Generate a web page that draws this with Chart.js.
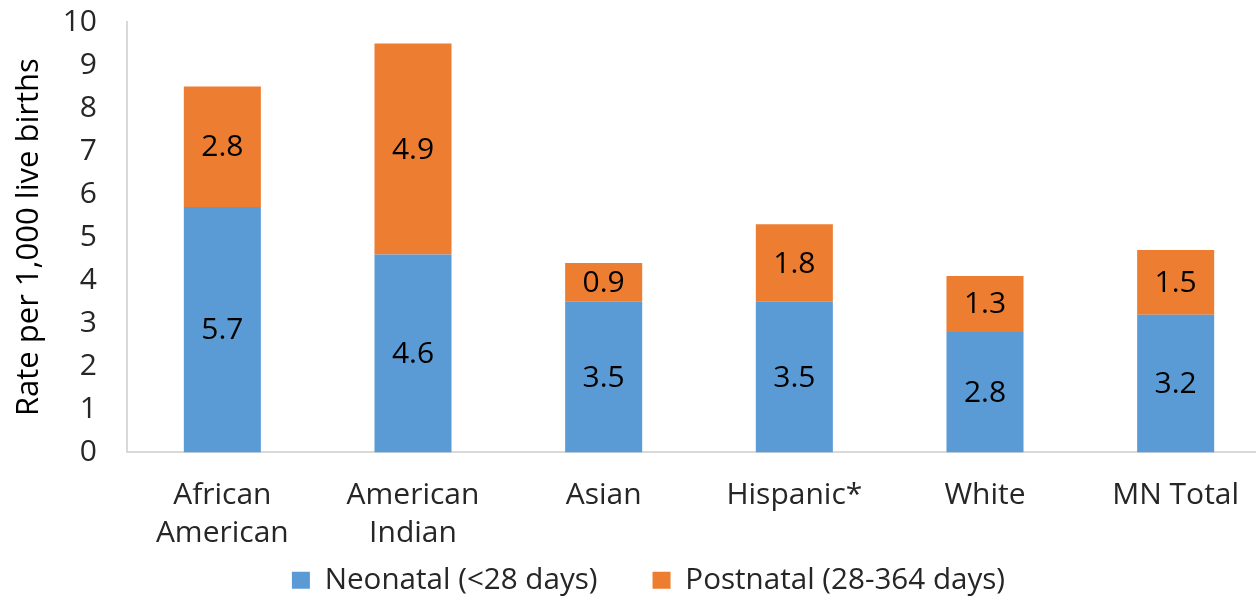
<!DOCTYPE html>
<html>
<head>
<meta charset="utf-8">
<script src="https://cdn.jsdelivr.net/npm/chart.js@4"></script>
<style>
  html, body { margin: 0; padding: 0; background: #fff; overflow: hidden; }
  #wrap { width: 1256px; height: 599px; overflow: hidden; position: relative; }
  #box { width: 1296px; height: 599px; position: absolute; left: 0; top: 0; }
</style>
</head>
<body>
<div id="wrap"><div id="box"><canvas id="c"></canvas></div></div>
<script>
const categories = [["African", "American"], ["American", "Indian"], "Asian", "Hispanic*", "White", "MN Total"];
const neonatal = [5.7, 4.6, 3.5, 3.5, 2.8, 3.2];
const postnatal = [2.8, 4.9, 0.9, 1.8, 1.3, 1.5];
const yTicks = [0, 1, 2, 3, 4, 5, 6, 7, 8, 9, 10];
const seriesNames = ["Neonatal (<28 days)", "Postnatal (28-364 days)"];

const FONT = "'Open Sans', sans-serif";

const valueLabels = {
  id: 'valueLabels',
  afterDatasetsDraw(chart) {
    const ctx = chart.ctx;
    ctx.save();
    ctx.font = "30px " + FONT;
    ctx.fillStyle = '#000000';
    ctx.textAlign = 'center';
    ctx.textBaseline = 'middle';
    chart.data.datasets.forEach((ds, di) => {
      const meta = chart.getDatasetMeta(di);
      meta.data.forEach((el, i) => {
        const v = ds.data[i];
        ctx.fillText(v.toFixed(1), el.x, (el.y + el.base) / 2 + 1);
      });
    });
    ctx.restore();
  }
};

const legendShift = {
  id: 'legendShift',
  afterLayout(chart) {
    if (chart.legend) { chart.legend.left += 13; chart.legend.right += 13; }
  }
};

new Chart(document.getElementById('c'), {
  type: 'bar',
  data: {
    labels: categories,
    datasets: [
      { label: seriesNames[0], data: neonatal, backgroundColor: '#5B9BD5', borderWidth: 0 },
      { label: seriesNames[1], data: postnatal, backgroundColor: '#ED7D31', borderWidth: 0 }
    ]
  },
  options: {
    responsive: true,
    maintainAspectRatio: false,
    animation: false,
    events: [],
    layout: { padding: { left: 0, right: 25, top: 22, bottom: -6 } },
    datasets: { bar: { barPercentage: 0.404, categoryPercentage: 1.0 } },
    scales: {
      x: {
        stacked: true,
        afterFit(scale) {
          scale.height = 58;
          scale._computeLabelArea = () => undefined;
        },
        grid: { display: false, drawTicks: false },
        border: { display: true, color: '#D9D9D9', width: 2 },
        ticks: { color: '#262626', font: { family: FONT, size: 30, lineHeight: 1.2667 }, padding: 24, maxRotation: 0, autoSkip: false }
      },
      y: {
        stacked: true,
        min: 0, max: 10,
        afterBuildTicks(scale) { scale.ticks = yTicks.map(v => ({ value: v })); },
        afterFit(scale) { scale.width = 127; scale.paddingTop = 18; scale.paddingBottom = 18; },
        grid: { display: false, drawTicks: false },
        border: { display: true, color: '#D9D9D9', width: 2 },
        ticks: { color: '#262626', font: { family: FONT, size: 30 }, padding: 30 },
        title: { display: true, text: 'Rate per 1,000 live births', color: '#000000', font: { family: FONT, size: 31 }, padding: { top: 11, bottom: 0 } }
      }
    },
    plugins: {
      legend: {
        position: 'bottom',
        labels: { color: '#262626', font: { family: FONT, size: 29.6 }, boxWidth: 18, boxHeight: 17, padding: 55 }
      },
      tooltip: { enabled: false }
    }
  },
  plugins: [valueLabels, legendShift]
});
</script>
</body>
</html>
